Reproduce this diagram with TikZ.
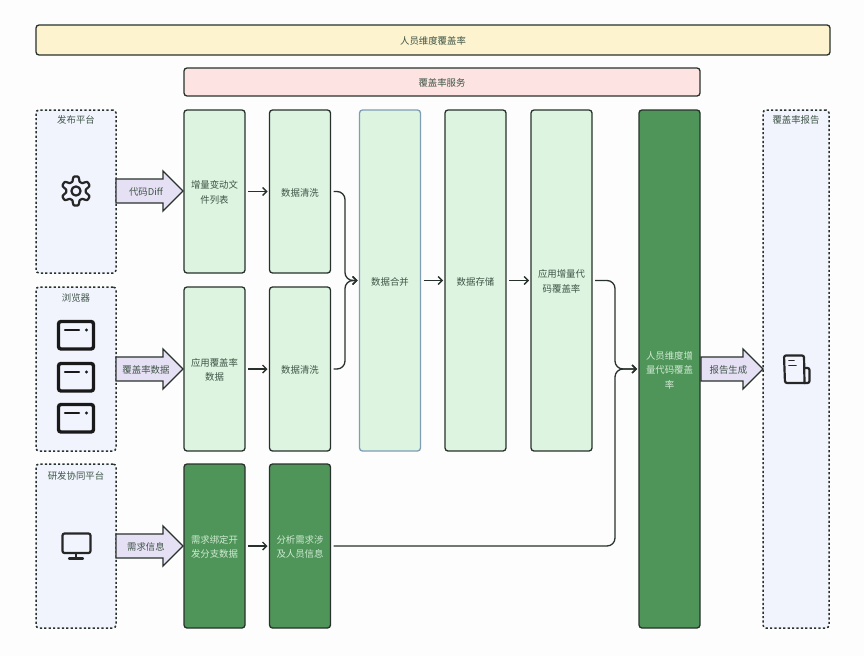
\documentclass[tikz,border=0pt]{standalone}
\usepackage{fontspec}
\setmainfont{Noto Sans CJK SC}
\usetikzlibrary{shapes.arrows,arrows.meta}
\definecolor{pagebg}{HTML}{FDFDFD}
\definecolor{edgec}{HTML}{28322C}
\definecolor{lightg}{HTML}{DCF4E0}
\definecolor{darkg}{HTML}{4F9459}
\definecolor{panelc}{HTML}{F1F4FD}
\definecolor{yellowc}{HTML}{FDF3CF}
\definecolor{pinkc}{HTML}{FDE4E3}
\definecolor{arrowc}{HTML}{E6E0F5}
\definecolor{txtc}{HTML}{3F5547}
\definecolor{ltxt}{HTML}{CFEBD2}
\definecolor{mergeb}{HTML}{7F9DB5}
\newcommand{\Zs}{\rule{0pt}{10pt}}
\newcommand{\Za}{\rule{0pt}{10pt}\hspace*{5pt}}
\tikzset{
  x=1pt,y=-1pt,
  basebox/.style={rectangle,rounded corners=3pt,inner sep=0pt,outer sep=0pt,align=center,text=txtc,
    font=\fontsize{9.4}{14.4}\selectfont},
  banner/.style={basebox,draw=edgec,line width=1.3pt},
  panelbox/.style={basebox,draw=edgec,fill=panelc,line width=1.5pt,dash pattern=on 2.2pt off 2.2pt},
  lbox/.style={basebox,draw=edgec,fill=lightg,line width=1.3pt,minimum width=61pt},
  dbox/.style={basebox,draw=edgec,fill=darkg,line width=1.3pt,minimum width=61pt,text=ltxt},
  captxt/.style={inner sep=0pt,text=txtc,font=\fontsize{9.4}{14}\selectfont},
  fat/.style={single arrow,draw=edgec,fill=arrowc,line width=1.3pt,minimum width=40pt,
    single arrow head extend=4pt,single arrow tip angle=90,inner sep=0pt,outer sep=0pt,
    anchor=tail,text=txtc,font=\fontsize{9.4}{14}\selectfont},
  conn/.style={draw=edgec,line width=1.3pt,rounded corners=8pt},
  tipc/.style={-{Straight Barb[length=4pt,width=8pt,line width=1.3pt]},shorten <=3pt,shorten >=2pt},
  icon/.style={draw=black!85,line width=2.2pt,line join=round,line cap=round},
}
\begin{document}
\begin{tikzpicture}
\useasboundingbox (0,0) rectangle (864,656);
\fill[pagebg] (0,0) rectangle (864,656);

\node[banner,fill=yellowc,minimum width=794pt,minimum height=30pt] (people) at (433,40) {\Zs 人员维度覆盖率};
\node[banner,fill=pinkc,minimum width=516pt,minimum height=28pt] (service) at (442,82) {\Zs 覆盖率服务};

\node[panelbox,minimum width=80pt,minimum height=163pt] (pub) at (76,191.5) {};
\node[panelbox,minimum width=80pt,minimum height=164pt] (browser) at (76,369) {};
\node[panelbox,minimum width=80pt,minimum height=164pt] (collab) at (76,546) {};
\node[panelbox,minimum width=66pt,minimum height=518pt] (report) at (796,369) {};
\node[captxt] (pubt) at (76,120) {发布平台};
\node[captxt] (browsert) at (76,298) {浏览器};
\node[captxt] (collabt) at (76,476) {研发协同平台};
\node[captxt] (reportt) at (796,120) {覆盖率报告};

\node[lbox,minimum height=163pt] (incr) at (214.5,191.5) {\Zs 增量变动文\\件列表};
\node[lbox,minimum height=163pt] (clean1) at (300,191.5) {\Zs 数据清洗};
\node[lbox,minimum height=164pt] (cov) at (214.5,369) {\Zs 应用覆盖率\\数据};
\node[lbox,minimum height=164pt] (clean2) at (300,369) {\Zs 数据清洗};
\node[dbox,minimum height=164pt] (req) at (214.5,546) {\Zs 需求绑定开\\发分支数据};
\node[dbox,minimum height=164pt] (who) at (300,546) {\Zs 分析需求涉\\及人员信息};
\node[lbox,draw=mergeb,minimum height=341pt] (merge) at (390,280.5) {\Zs 数据合并};
\node[lbox,minimum height=341pt] (store) at (475.5,280.5) {\Zs 数据存储};
\node[lbox,minimum height=341pt] (app) at (561.5,280.5) {\Zs 应用增量代\\码覆盖率};
\node[dbox,minimum height=518pt] (person) at (669.5,369) {\Zs 人员维度增\\量代码覆盖\\率};

\node[fat,minimum height=67pt] (a1) at (116,191) {\Za 代码Diff};
\node[fat,minimum height=67pt] (a2) at (116,369) {\Za 覆盖率数据};
\node[fat,minimum height=67pt] (a3) at (116,546) {\Za 需求信息};
\node[fat,minimum height=62pt] (a4) at (701,369) {\Za 报告生成};

\draw[conn,tipc] (incr) -- (clean1);
\draw[conn,tipc] (cov) -- (clean2);
\draw[conn,tipc] (req) -- (who);
\draw[conn,tipc] (merge) -- (store);
\draw[conn,tipc] (store) -- (app);
\coordinate (j1) at (345,280.5);
\coordinate (j2) at (615,369);
\draw[conn,tipc] (clean1.east) -- (j1 |- clean1.east) -- (j1) -- (merge.west);
\draw[conn,tipc] (clean2.east) -- (j1 |- clean2.east) -- (j1) -- (merge.west);
\draw[conn,tipc] (app.east) -- (j2 |- app.east) -- (j2) -- (person.west);
\draw[conn,tipc] (who.east) -- (j2 |- who.east) -- (j2) -- (person.west);

% gear
\draw[icon] plot[smooth,samples=73,domain=0:360,variable=\t]
  ({76+(12.2+2.4*max(-0.6,min(0.6,-cos(6*\t)))/0.6)*cos(\t)},{191+(12.2+2.4*max(-0.6,min(0.6,-cos(6*\t)))/0.6)*sin(\t)}) -- cycle;
\draw[icon] (76,191) circle (4.6);

% windows
\foreach \yy in {320,362,403}{
  \draw[black!90,line width=3.4pt,rounded corners=2.5pt] (58.5,\yy+1.5) rectangle (93.5,\yy+29);
  \draw[black!90,line width=2.4pt,line cap=round] (65,\yy+10) -- (79,\yy+10);
  \fill[black!90] (86.5,\yy+10) circle (1.6);
}

% monitor
\draw[icon,rounded corners=2pt] (62.5,533.5) rectangle (90.5,553);
\draw[icon] (76,553) -- (76,558);
\draw[icon] (69,558.5) -- (83,558.5);

% document
\draw[icon,rounded corners=2pt] (805,383) -- (785,383) -- (784,355.5) -- (804,355.5) -- (804.5,383);
\draw[icon,rounded corners=2pt] (805,368) -- (809.5,368) -- (809.5,383) -- (804,383);
\draw[icon,line width=1.6pt] (789,360.5) -- (794,360.5);
\draw[icon,line width=1.6pt] (789,365.5) -- (796,365.5);
\end{tikzpicture}
\end{document}
